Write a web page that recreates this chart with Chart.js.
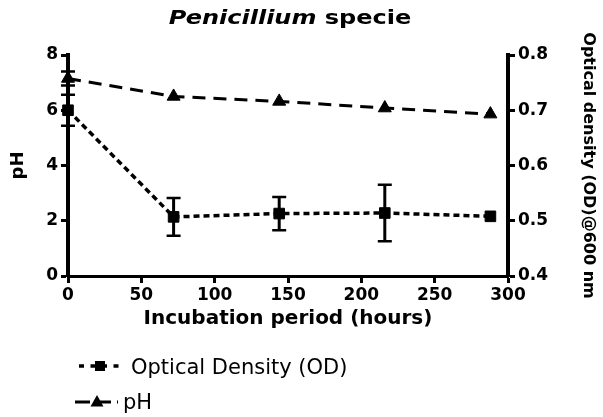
<!DOCTYPE html>
<html><head><meta charset="utf-8">
<script src="https://cdn.jsdelivr.net/npm/chart.js@4.4.1/dist/chart.umd.min.js"></script>
<style>html,body{margin:0;padding:0;background:#fff;}#wrap{width:603px;height:417px;position:relative;}</style>
</head><body><div id="wrap"><canvas id="c" width="603" height="417"></canvas></div>
<script>
// ---- data ----
const hours = [0, 72, 144, 216, 288];
const odValues = [0.700, 0.507, 0.513, 0.514, 0.508];
const odErrors = [0.028, 0.034, 0.030, 0.051, 0];
const phValues = [7.15, 6.50, 6.32, 6.08, 5.86];
const phErrors = [0.25, 0, 0, 0, 0];
const xTicks = [0, 50, 100, 150, 200, 250, 300];
const phTicks = [0, 2, 4, 6, 8];
const odTicks = [0.4, 0.5, 0.6, 0.7, 0.8];
const seriesLabels = ['Optical Density (OD)', 'pH'];

const FAM = "'DejaVu Sans', sans-serif";
Chart.defaults.font.family = FAM;
Chart.defaults.color = '#000';

const errorBars = {
  id: 'errorBars',
  beforeDatasetsDraw(chart) {
    const ctx = chart.ctx;
    const xs = chart.scales.x;
    const sets = [{y: chart.scales.y1, v: odValues, e: odErrors}, {y: chart.scales.y, v: phValues, e: phErrors}];
    ctx.save();
    ctx.strokeStyle = '#000';
    sets.forEach(s => {
      hours.forEach((h, i) => {
        const e = s.e[i];
        if (!e) return;
        const px = xs.getPixelForValue(h);
        const top = s.y.getPixelForValue(s.v[i] + e);
        const bot = s.y.getPixelForValue(s.v[i] - e);
        ctx.lineWidth = 3;
        ctx.beginPath(); ctx.moveTo(px, top); ctx.lineTo(px, bot); ctx.stroke();
        ctx.lineWidth = 2.5;
        ctx.beginPath();
        ctx.moveTo(px - 7, top); ctx.lineTo(px + 7, top);
        ctx.moveTo(px - 7, bot); ctx.lineTo(px + 7, bot);
        ctx.stroke();
      });
    });
    ctx.restore();
  }
};

const titleAndLegend = {
  id: 'titleAndLegend',
  afterDraw(chart) {
    const ctx = chart.ctx;
    ctx.save();
    ctx.fillStyle = '#000';
    // title
    const parts = [{t: 'Penicillium', f: "italic bold 20px " + FAM}, {t: ' specie', f: "bold 20px " + FAM}];
    let w = 0;
    parts.forEach(p => { ctx.font = p.f; p.w = ctx.measureText(p.t).width; w += p.w; });
    ctx.translate(290, 24);
    ctx.scale(1.2, 1);
    ctx.textBaseline = 'alphabetic';
    ctx.textAlign = 'left';
    let x = -w / 2;
    parts.forEach(p => { ctx.font = p.f; ctx.fillText(p.t, x, 0); x += p.w; });
    ctx.restore();

    // legend
    ctx.save();
    ctx.strokeStyle = '#000'; ctx.fillStyle = '#000';
    // OD row
    ctx.lineWidth = 3.5; ctx.setLineDash([5, 6.5]);
    ctx.beginPath(); ctx.moveTo(79, 366); ctx.lineTo(123, 366); ctx.stroke();
    ctx.setLineDash([]);
    ctx.fillRect(95, 361, 10, 10);
    // pH row
    ctx.lineWidth = 3; ctx.setLineDash([15, 6]);
    ctx.beginPath(); ctx.moveTo(75, 402); ctx.lineTo(118, 402); ctx.stroke();
    ctx.setLineDash([]);
    ctx.beginPath(); ctx.moveTo(97, 395); ctx.lineTo(103.5, 406.5); ctx.lineTo(90.5, 406.5); ctx.closePath(); ctx.fill();
    ctx.font = "21px " + FAM;
    ctx.textBaseline = 'alphabetic';
    ctx.fillText(seriesLabels[0], 131, 374);
    ctx.fillText(seriesLabels[1], 123, 409);
    ctx.restore();
  }
};

const tickFont = {family: FAM, size: 17, weight: 'bold'};
const gridCommon = {drawOnChartArea: false, drawTicks: true, tickLength: 7, tickWidth: 3, tickColor: '#000'};

new Chart(document.getElementById('c'), {
  type: 'line',
  data: {
    datasets: [
      {
        label: seriesLabels[0],
        data: hours.map((h, i) => ({x: h, y: odValues[i]})),
        yAxisID: 'y1',
        borderColor: '#000', backgroundColor: '#000',
        borderWidth: 3.5, borderDash: [6, 4],
        segment: {borderDash: () => [6, 4]},
        pointStyle: 'rect', pointRadius: 7.5,
        pointBackgroundColor: '#000', pointBorderColor: '#000', pointBorderWidth: 1,
        fill: false, tension: 0, clip: false
      },
      {
        label: seriesLabels[1],
        data: hours.map((h, i) => ({x: h, y: phValues[i]})),
        yAxisID: 'y',
        borderColor: '#000', backgroundColor: '#000',
        borderWidth: 3, borderDash: [13, 8],
        segment: {borderDash: () => [13, 8]},
        pointStyle: 'triangle', pointRadius: 7.5,
        pointBackgroundColor: '#000', pointBorderColor: '#000', pointBorderWidth: 1,
        fill: false, tension: 0, clip: false
      }
    ]
  },
  options: {
    responsive: false,
    animation: false,
    devicePixelRatio: 1,
    layout: {padding: {top: 55, left: 0, right: 0, bottom: 86}},
    plugins: {legend: {display: false}, title: {display: false}, tooltip: {enabled: false}},
    scales: {
      x: {
        type: 'linear', min: 0, max: 300,
        afterBuildTicks: s => { s.ticks = xTicks.map(v => ({value: v})); },
        afterFit: s => { s.height = 55; },
        ticks: {font: tickFont, color: '#000', padding: 2, maxRotation: 0},
        grid: gridCommon,
        border: {display: true, color: '#000', width: 3},
        title: {display: true, text: 'Incubation period (hours)', font: {family: FAM, size: 20, weight: 'bold'}, color: '#000', padding: {top: 0, bottom: 0}}
      },
      y: {
        type: 'linear', position: 'left', min: 0, max: 8,
        afterBuildTicks: s => { s.ticks = phTicks.map(v => ({value: v})); },
        afterFit: s => { s.width = 68; },
        ticks: {font: tickFont, color: '#000', padding: 3},
        grid: gridCommon,
        border: {display: true, color: '#000', width: 4},
        title: {display: true, text: 'pH', font: {family: FAM, size: 18, weight: 'bold'}, color: '#000', padding: {top: 8, bottom: 0}}
      },
      y1: {
        type: 'linear', position: 'right', min: 0.4, max: 0.8,
        afterBuildTicks: s => { s.ticks = odTicks.map(v => ({value: v})); },
        afterFit: s => { s.width = 95; },
        ticks: {font: tickFont, color: '#000', padding: 3, callback: v => Number(v).toFixed(1)},
        grid: gridCommon,
        border: {display: true, color: '#000', width: 4},
        title: {display: true, text: 'Optical density (OD)@600 nm', font: {family: FAM, size: 16, weight: 'bold'}, color: '#000', padding: {top: 5, bottom: 0}}
      }
    }
  },
  plugins: [errorBars, titleAndLegend]
});
</script>
</body></html>
